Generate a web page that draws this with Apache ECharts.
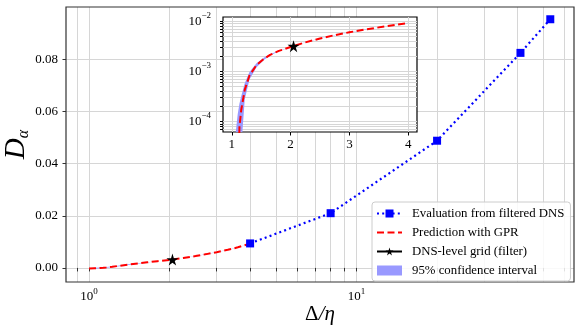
<!DOCTYPE html>
<html>
<head>
<meta charset="utf-8">
<script src="https://cdn.jsdelivr.net/npm/echarts@6/dist/echarts.min.js"></script>
<style>
html, body { margin: 0; padding: 0; background: #fff; }
#box { width: 581px; height: 335px; }
</style>
</head>
<body>
<div id="box"></div>
<script>
// evaluation from filtered DNS
const dnsX = [4, 8, 20, 41, 53]
const dnsY = [0.0094, 0.0210, 0.0488, 0.0825, 0.0954]

// GPR prediction + half width of the 95% band
const gprX = [1.00, 1.05, 1.10, 1.13, 1.16, 1.22, 1.30, 1.42, 1.55, 1.65, 1.80, 2.05, 2.25, 2.50, 2.75, 3.00, 3.30, 3.60, 4.00]
const gprY = [-0.00025, -0.00012, -0.00001, 0.00008, 0.00017, 0.00043, 0.00083, 0.00134, 0.00180, 0.00214, 0.00257, 0.00322, 0.00380, 0.00455, 0.00530, 0.00605, 0.00695, 0.00790, 0.00930]
const gprErr = [0.00016, 0.00016, 0.00015, 0.00015, 0.00015, 0.00015, 0.00014, 0.00012, 0.00009, 0.00006, 0.00003, 0.00001, 0.00002, 0.00003, 0.00004, 0.00004, 0.00004, 0.00003, 0.00002]

// DNS-level grid
const gridX = [2.05]
const gridY = [0.0032]

// ticks
const mainXTicks = [1, 10]
const mainXMinor = [0.9, 2, 3, 4, 5, 6, 7, 8, 9, 20, 30, 40, 50, 60]
const mainYTicks = [0, 0.02, 0.04, 0.06, 0.08]
const insetXTicks = [1, 2, 3, 4]
const insetYTicks = [1e-4, 1e-3, 1e-2]
const insetYMinor = [7e-5, 8e-5, 9e-5, 2e-4, 3e-4, 4e-4, 5e-4, 6e-4, 7e-4, 8e-4, 9e-4,
  2e-3, 3e-3, 4e-3, 5e-3, 6e-3, 7e-3, 8e-3, 9e-3]

const FONT = 'Liberation Serif'
const STAR = 'path://M10 0 L12.23 6.93 L19.51 6.91 L13.61 11.17 L15.88 18.09 L10 13.8 L4.12 18.09 L6.39 11.17 L0.49 6.91 L7.77 6.93 Z'

const gprLo = gprY.map((v, i) => v - gprErr[i])
const gprHi = gprY.map((v, i) => v + gprErr[i])

const bandRender = (floor) => (params, api) => {
  const pts = []
  for (let i = 0; i < gprX.length; i++) pts.push(api.coord([gprX[i], Math.max(gprHi[i], floor)]))
  for (let i = gprX.length - 1; i >= 0; i--) pts.push(api.coord([gprX[i], Math.max(gprLo[i], floor)]))
  return { type: 'polygon', shape: { points: pts }, style: { fill: '#9999ff' } }
}

const pow10Label = (v) => {
  const e = Math.round(Math.log10(v))
  return '{b|10}{s|' + String(e).replace('-', '\u2212') + '}'
}
const powRich = {
  b: { fontSize: 13, fontFamily: FONT, color: '#000', lineHeight: 20 },
  s: { fontSize: 9, fontFamily: FONT, color: '#000', verticalAlign: 'top' }
}

const myChart = echarts.init(document.getElementById('box'))

const option = {
  animation: false,
  grid: [
    { left: 66, top: 7, right: 7, bottom: 53, outerBoundsMode: 'none', containLabel: false, show: true, borderColor: '#333', borderWidth: 1.2, z: 2 },
    { left: 223, top: 17, width: 194, height: 115, outerBoundsMode: 'none', containLabel: false, show: true, backgroundColor: '#fff', borderColor: '#000', borderWidth: 1.2, z: 10 }
  ],
  legend: {
    orient: 'vertical',
    left: 372,
    top: 202,
    itemWidth: 25,
    itemHeight: 10,
    itemGap: 6,
    padding: [5, 6, 4, 4],
    borderColor: '#ccc',
    borderWidth: 1,
    borderRadius: 3,
    backgroundColor: 'rgba(255,255,255,0.85)',
    selectedMode: false,
    z: 30,
    textStyle: { fontFamily: FONT, fontSize: 12.8, lineHeight: 12, color: '#000', padding: [0, 0, 0, 5] },
    data: [
      { name: 'Evaluation from filtered DNS' },
      { name: 'Prediction with GPR', itemStyle: { color: 'transparent', borderWidth: 0 } },
      { name: 'DNS-level grid (filter)' },
      { name: '95% confidence interval', icon: 'rect' }
    ]
  },
  xAxis: [
    {
      type: 'log', logBase: 10, gridIndex: 0, min: 0.82, max: 65,
      name: '{d|\u0394}{i|/\u03b7}', nameLocation: 'middle', nameGap: 22, nameMoveOverlap: false,
      nameTextStyle: {
        rich: {
          d: { fontSize: 21, fontFamily: FONT, color: '#000' },
          i: { fontSize: 21, fontFamily: FONT, fontStyle: 'italic', color: '#000' }
        }
      },
      axisLine: { show: false },
      axisTick: { customValues: mainXTicks.concat(mainXMinor), length: 3.5, lineStyle: { color: '#333' } },
      axisLabel: { customValues: mainXTicks, formatter: pow10Label, rich: powRich, margin: 5 },
      splitLine: { show: true, lineStyle: { color: '#d6d6d6', width: 1 } }
    },
    {
      type: 'value', gridIndex: 1, min: 0.85, max: 4.15, z: 11,
      axisLine: { show: false },
      axisTick: { customValues: insetXTicks, length: 3.5, lineStyle: { color: '#000' } },
      axisLabel: { customValues: insetXTicks, fontFamily: FONT, fontSize: 13, color: '#000', margin: 6 },
      splitLine: { show: true, lineStyle: { color: '#d6d6d6', width: 1 } }
    }
  ],
  yAxis: [
    {
      type: 'value', gridIndex: 0, min: -0.0054, max: 0.1001,
      name: '{d|D}{s|\u03b1}', nameLocation: 'middle', nameGap: 34, nameMoveOverlap: false,
      nameTextStyle: {
        rich: {
          d: { fontSize: 29, fontFamily: FONT, fontStyle: 'italic', color: '#000', lineHeight: 32 },
          s: { fontSize: 16, fontFamily: FONT, fontStyle: 'italic', color: '#000', verticalAlign: 'bottom' }
        }
      },
      axisLine: { show: false },
      axisTick: { customValues: mainYTicks, length: 3.5, lineStyle: { color: '#333' } },
      axisLabel: { customValues: mainYTicks, formatter: (v) => v.toFixed(2), fontFamily: FONT, fontSize: 13, color: '#000', margin: 8 },
      splitLine: { show: true, lineStyle: { color: '#d6d6d6', width: 1 } }
    },
    {
      type: 'log', logBase: 10, gridIndex: 1, min: 6.2e-5, max: 0.0122, z: 11,
      axisLine: { show: false },
      axisTick: { customValues: insetYTicks.concat(insetYMinor), length: 3, lineStyle: { color: '#000' } },
      axisLabel: { customValues: insetYTicks, formatter: pow10Label, rich: powRich, margin: 12 },
      splitLine: { show: true, lineStyle: { color: '#d6d6d6', width: 1 } }
    }
  ],
  series: [
    {
      name: '95% confidence interval', type: 'custom', xAxisIndex: 0, yAxisIndex: 0,
      data: [[0]], renderItem: bandRender(-1), itemStyle: { color: '#9999ff' }, z: 3, clip: true
    },
    {
      name: 'Prediction with GPR', type: 'line', xAxisIndex: 0, yAxisIndex: 0,
      data: gprX.map((x, i) => [x, gprY[i]]),
      symbol: 'none', color: '#ff0000',
      lineStyle: { color: '#ff0000', width: 2, type: [7, 3.5] }, z: 4
    },
    {
      name: 'Evaluation from filtered DNS', type: 'line', xAxisIndex: 0, yAxisIndex: 0,
      data: dnsX.map((x, i) => [x, dnsY[i]]),
      symbol: 'rect', symbolSize: 8, color: '#0000ff',
      itemStyle: { color: '#0000ff' },
      lineStyle: { color: '#0000ff', width: 2.2, type: [2, 3.2] }, z: 5
    },
    {
      name: 'DNS-level grid (filter)', type: 'line', xAxisIndex: 0, yAxisIndex: 0,
      data: gridX.map((x, i) => [x, gridY[i]]),
      symbol: STAR, symbolSize: 12, color: '#000',
      itemStyle: { color: '#000' },
      lineStyle: { color: '#000', width: 2 }, z: 6
    },
    {
      name: '95% confidence interval', type: 'custom', xAxisIndex: 1, yAxisIndex: 1,
      data: [[0]], renderItem: bandRender(3e-5), itemStyle: { color: '#9999ff' }, z: 12, clip: true
    },
    {
      name: 'Prediction with GPR', type: 'line', xAxisIndex: 1, yAxisIndex: 1,
      data: gprX.map((x, i) => [x, Math.max(gprY[i], 1e-6)]),
      symbol: 'none', color: '#ff0000', clip: true,
      lineStyle: { color: '#ff0000', width: 2, type: [7, 3.5] }, z: 13
    },
    {
      name: 'DNS-level grid (filter)', type: 'line', xAxisIndex: 1, yAxisIndex: 1,
      data: gridX.map((x, i) => [x, gridY[i]]),
      symbol: STAR, symbolSize: 12, color: '#000',
      itemStyle: { color: '#000' }, z: 14
    }
  ]
}

myChart.setOption(option)
</script>
</body>
</html>
